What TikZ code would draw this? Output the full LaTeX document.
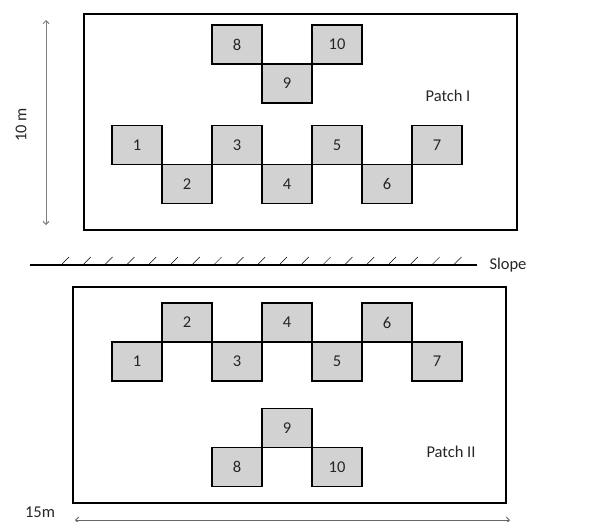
\documentclass[tikz,border=0pt]{standalone}
\usepackage{fontspec}
\setmainfont{Carlito}
\usetikzlibrary{positioning,arrows.meta}
\begin{document}
\begin{tikzpicture}
[x=1pt, y=-1pt, on grid, node distance=39pt and 50pt, font=\fontsize{16.5}{19}\selectfont, text=black!85]
\tikzstyle{plot}=[rectangle, draw, fill=gray!35, line width=1.2pt, minimum width=50pt, minimum height=39pt, inner sep=0pt, outer sep=0pt]
\tikzstyle{patch}=[draw, line width=1.7pt]
\tikzstyle{dim}=[draw=gray, line width=0.9pt, {Straight Barb[length=3pt,width=6pt]}-{Straight Barb[length=3pt,width=6pt]}]
\useasboundingbox (0,0) rectangle (603,522);

\draw[patch]	(84,14) rectangle (517,230);
\node[plot]	(A1)	at (137,145)	{1};
\node[plot]	(A2)	[below right=of A1]	{2};
\node[plot]	(A3)	[above right=of A2]	{3};
\node[plot]	(A4)	[below right=of A3]	{4};
\node[plot]	(A5)	[above right=of A4]	{5};
\node[plot]	(A6)	[below right=of A5]	{6};
\node[plot]	(A7)	[above right=of A6]	{7};
\node[plot]	(A9)	at (287,83.5)	{9};
\node[plot]	(A8)	[above left=of A9]	{8};
\node[plot]	(A10)	[above right=of A9]	{10};
\node	(P1)	at (448,96)	{Patch I};

\draw[patch]	(73,287) rectangle (506,503);
\node[plot]	(B1)	at (137,361.5)	{1};
\node[plot]	(B2)	[above right=of B1]	{2};
\node[plot]	(B3)	[below right=of B2]	{3};
\node[plot]	(B4)	[above right=of B3]	{4};
\node[plot]	(B5)	[below right=of B4]	{5};
\node[plot]	(B6)	[above right=of B5]	{6};
\node[plot]	(B7)	[below right=of B6]	{7};
\node[plot]	(B9)	at (287,428)	{9};
\node[plot]	(B8)	[below left=of B9]	{8};
\node[plot]	(B10)	[below right=of B9]	{10};
\node	(P2)	at (451,452)	{Patch II};

\coordinate	(s1)	at (30,265);
\coordinate	(s2)	at (477,265);
\draw[line width=1.6pt]	(s1) -- (s2);
\foreach \i in {0,...,18}
  \draw[line width=0.5pt]	(62+\i*21.8,264) -- ++(7,-7);
\node[anchor=west]	(S)	at (486,265)	{Slope};

\coordinate	(v1)	at (46,20);
\coordinate	(v2)	at (46,225);
\draw[dim]	(v1) -- (v2);
\node[rotate=90]	(L1)	at (21,125)	{10 m};

\coordinate	(h1)	at (75,520);
\coordinate	(h2)	at (510,520);
\draw[dim, draw=gray!80!black]	(h1) -- (h2);
\node	(L2)	at (40,512)	{15m};
\end{tikzpicture}
\end{document}
